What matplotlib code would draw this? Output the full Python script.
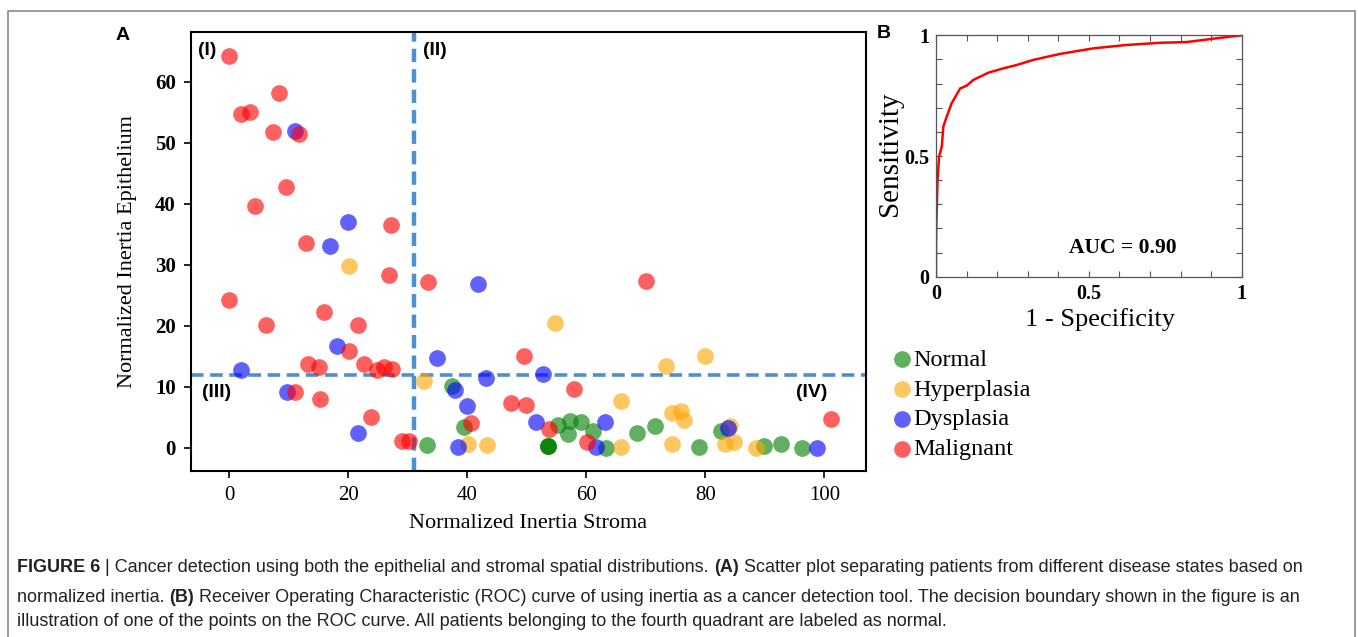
import matplotlib
matplotlib.use("Agg")
import matplotlib.pyplot as plt
from matplotlib.patches import Rectangle
from matplotlib.ticker import MultipleLocator

# scatter data
normal_x = [33.3, 37.5, 39.4, 53.5, 53.5, 53.5, 55.3, 57.2, 59.2, 57.0, 61.1, 63.3, 68.6, 71.6, 78.9, 82.6, 89.8, 92.7, 96.3]
normal_y = [0.4, 10.2, 3.4, 0.3, 0.3, 0.3, 3.8, 4.4, 4.3, 2.2, 2.8, -0.1, 2.5, 3.5, 0.2, 2.8, 0.3, 0.7, 0.0]

hyper_x = [20.2, 32.7, 40.2, 43.4, 54.8, 65.8, 65.8, 73.4, 80.0, 74.4, 76.0, 76.4, 74.4, 84.1, 83.3, 84.8, 88.6]
hyper_y = [29.9, 11.0, 0.7, 0.4, 20.5, 7.7, 0.2, 13.4, 15.1, 5.7, 6.0, 4.5, 0.6, 3.6, 0.6, 1.0, 0.0]

dysp_x = [11.1, 19.9, 16.9, 18.2, 2.0, 9.7, 21.6, 41.8, 35.0, 52.7, 38.0, 43.2, 39.9, 51.6, 63.1, 61.7, 38.4, 83.8, 98.8]
dysp_y = [52.0, 37.0, 33.1, 16.7, 12.7, 9.1, 2.4, 26.8, 14.8, 12.1, 9.5, 11.4, 6.8, 4.3, 4.3, 0.2, 0.2, 3.3, 0.0]

malig_x = [0.0, 8.4, 2.0, 3.5, 7.3, 11.8, 9.6, 4.4, 27.2, 12.9, 26.8, 33.4, 0.0, 16.0, 6.2, 21.6,
           20.2, 13.2, 15.1, 22.7, 24.8, 26.1, 27.3, 11.0, 15.3, 23.9, 29.0, 30.3, 70.1, 49.5, 58.0,
           47.4, 49.9, 40.7, 53.7, 60.1, 101.2]
malig_y = [64.3, 58.2, 54.7, 55.1, 51.8, 51.4, 42.7, 39.7, 36.5, 33.6, 28.3, 27.2, 24.3, 22.3, 20.1, 20.2,
           15.9, 13.8, 13.2, 13.8, 12.7, 13.3, 12.9, 9.1, 8.0, 5.0, 1.2, 1.2, 27.3, 15.0, 9.7,
           7.4, 7.0, 4.1, 3.1, 0.9, 4.8]

groups = ["Normal", "Hyperplasia", "Dysplasia", "Malignant"]
colors = ["green", "orange", "blue", "red"]

# decision boundary
x_cut = 31
y_cut = 12

# ROC curve
fpr = [0, 0, 0.001, 0.005, 0.01, 0.019, 0.024, 0.035, 0.051, 0.079, 0.1, 0.122, 0.171,
       0.22, 0.264, 0.318, 0.406, 0.515, 0.624, 0.733, 0.82, 0.907, 1.0]
tpr = [0, 0.097, 0.207, 0.40, 0.497, 0.539, 0.622, 0.663, 0.718, 0.780, 0.791, 0.815, 0.845,
       0.863, 0.877, 0.898, 0.923, 0.946, 0.960, 0.969, 0.972, 0.986, 1.0]

serif = ["Liberation Serif", "DejaVu Serif"]
sans = ["Liberation Sans", "DejaVu Sans"]

W, H = 1358, 637
fig = plt.figure(figsize=(W / 100, H / 100), dpi=100)

# outer frame
fig.patches.append(Rectangle((8 / W, -0.01), 1347 / W, 1 - 11 / H + 0.01, transform=fig.transFigure,
                             fill=False, edgecolor="#8a8a8a", linewidth=1.2))

# ---- panel A
ax = fig.add_axes([191 / W, 1 - 471 / H, 675 / W, 439 / H])
xs = [normal_x, hyper_x, dysp_x, malig_x]
ys = [normal_y, hyper_y, dysp_y, malig_y]
handles = []
for gx, gy, c, name in zip(xs, ys, colors, groups):
    h = ax.scatter(gx, gy, s=145, c=c, alpha=0.62, linewidths=0, label=name, zorder=3)
    handles.append(h)

ax.axvline(x_cut, color="#4d8fd1", lw=3.2, ls=(0, (3, 1.6)), zorder=2)
ax.axhline(y_cut, color="#4d8fd1", lw=2.6, ls=(0, (3.5, 1.8)), zorder=2)

ax.set_xlim(-6.4, 107)
ax.set_ylim(-3.8, 68.2)
ax.set_xticks([0, 20, 40, 60, 80, 100])
ax.set_yticks([0, 10, 20, 30, 40, 50, 60])
ax.tick_params(length=5, width=1.2, pad=6, labelsize=15)
for lab in ax.get_xticklabels():
    lab.set_family(serif)
for lab in ax.get_yticklabels():
    lab.set_family(serif)
    lab.set_fontweight("bold")
for sp in ax.spines.values():
    sp.set_linewidth(1.5)
ax.set_xlabel("Normalized Inertia Stroma", family=serif, fontsize=16, labelpad=6)
ax.set_ylabel("Normalized Inertia Epithelium", family=serif, fontsize=16, labelpad=13)

qkw = dict(family=sans, fontweight="bold", fontsize=14, va="center", ha="left")
ax.text(-5.3, 65.2, "(I)", **qkw)
ax.text(32.6, 65.2, "(II)", **qkw)
ax.text(-4.6, 9.0, "(III)", **qkw)
ax.text(95.3, 9.0, "(IV)", **qkw)

fig.text(123 / W, 1 - 35 / H, "A", family=sans, fontweight="bold", fontsize=14, va="center", ha="center")
fig.text(884 / W, 1 - 33 / H, "B", family=sans, fontweight="bold", fontsize=14, va="center", ha="center")

# ---- panel B
bx = fig.add_axes([936 / W, 1 - 276.7 / H, 305.7 / W, 241.4 / H])
bx.plot(fpr, tpr, color="red", lw=1.8)
bx.set_xlim(0, 1)
bx.set_ylim(0, 1)
bx.set_xticks([0, 0.5, 1])
bx.set_yticks([0, 0.5, 1])
bx.set_xticklabels(["0", "0.5", "1"])
bx.set_yticklabels(["0", "0.5", "1"])
bx.xaxis.set_minor_locator(MultipleLocator(0.1))
bx.yaxis.set_minor_locator(MultipleLocator(0.1))
bx.tick_params(which="both", direction="in", top=True, right=True, length=4, width=0.8, color="#555555")
bx.tick_params(which="major", labelsize=14.5, pad=5)
for lab in bx.get_xticklabels() + bx.get_yticklabels():
    lab.set_family(serif)
    lab.set_fontweight("bold")
for sp in bx.spines.values():
    sp.set_linewidth(0.9)
    sp.set_color("#555555")
bx.set_xlabel("1 - Specificity", family=serif, fontsize=19, labelpad=2)
bx.xaxis.set_label_coords(0.535, -0.13)
bx.set_ylabel("Sensitivity", family=serif, fontsize=21)
bx.yaxis.set_label_coords(-0.107, 0.51)
bx.text(0.61, 0.12, "AUC = 0.90", family=serif, fontweight="bold", fontsize=15.5, ha="center", va="center")

fig.legend(handles=handles, labels=groups, loc="upper left", bbox_to_anchor=(878 / W, 1 - 339 / H),
           frameon=False, handletextpad=-0.15, labelspacing=0.32, borderaxespad=0, handlelength=1.2,
           prop={"family": serif, "size": 17.5}, scatterpoints=1)

# ---- caption with bold runs
renderer = fig.canvas.get_renderer()


def draw_runs(x, y, runs):
    for txt, bold in runs:
        t = fig.text(x, y, txt, family=sans, fontsize=13, color="#222222",
                     fontweight="bold" if bold else "normal", va="center", ha="left")
        x += t.get_window_extent(renderer).width / W


cap_x = 17 / W
draw_runs(cap_x, 1 - 568 / H, [("FIGURE 6", True), (" | Cancer detection using both the epithelial and stromal spatial distributions. ", False),
                               ("(A)", True), (" Scatter plot separating patients from different disease states based on", False)])
draw_runs(cap_x, 1 - 597 / H, [("normalized inertia. ", False), ("(B)", True),
                               (" Receiver Operating Characteristic (ROC) curve of using inertia as a cancer detection tool. The decision boundary shown in the figure is an", False)])
draw_runs(cap_x, 1 - 622 / H, [("illustration of one of the points on the ROC curve. All patients belonging to the fourth quadrant are labeled as normal.", False)])

fig.savefig("out.png", dpi=100)
